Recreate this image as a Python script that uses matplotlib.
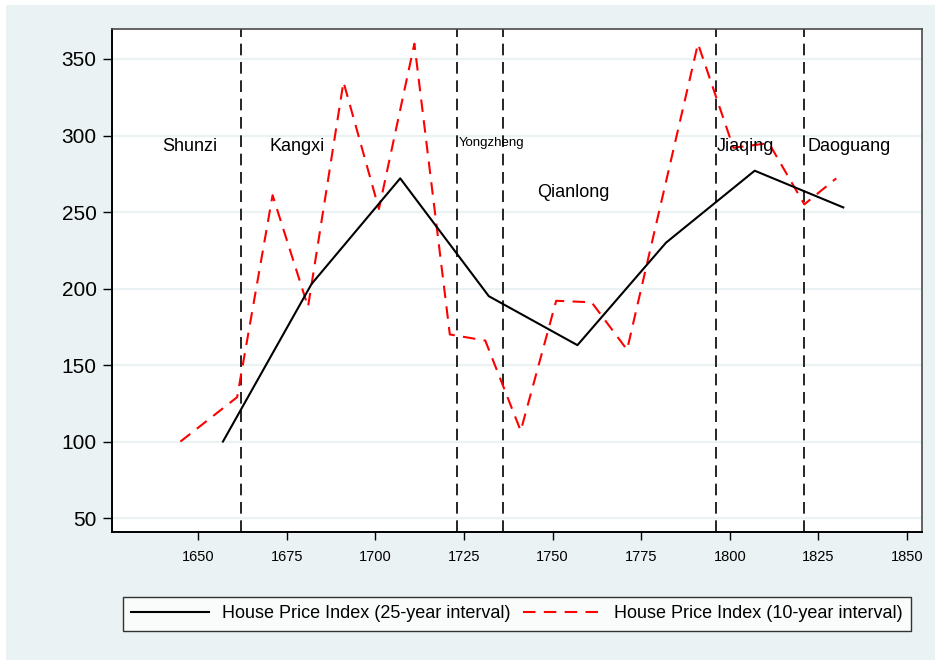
import matplotlib
matplotlib.use("Agg")
import matplotlib.pyplot as plt
from matplotlib.patches import Rectangle

# 25-year interval index
years_25 = [1657, 1682, 1707, 1732, 1757, 1782, 1807, 1832]
hpi_25 = [100, 203, 272, 195, 163, 230, 277, 253]

# 10-year interval index
years_10 = [1645, 1661, 1671, 1681, 1691, 1701, 1711, 1721, 1731, 1741,
            1751, 1761, 1771, 1781, 1791, 1801, 1811, 1821, 1830]
hpi_10 = [100, 129, 261, 188, 335, 252, 360, 170, 166, 107,
          192, 191, 160, 260, 360, 292, 295, 255, 272]

# reign boundaries and labels
reign_starts = [1662, 1723, 1736, 1796, 1821]
reign_names = ["Shunzi", "Kangxi", "Yongzheng", "Qianlong", "Jiaqing", "Daoguang"]
label_x = [1640, 1670, 1723.5, 1745.5, 1796.3, 1821.8]
label_y = [293, 293, 295, 263, 293, 293]
label_size = [13, 13, 9.5, 13, 13, 13]

x_ticks = [1650, 1675, 1700, 1725, 1750, 1775, 1800, 1825, 1850]
y_ticks = [50, 100, 150, 200, 250, 300, 350]

bg = "#EAF2F3"
plt.rcParams['font.family'] = ['Liberation Sans', 'DejaVu Sans']

fig = plt.figure(figsize=(9.35, 6.6), dpi=100)
fig.patch.set_facecolor("white")
fig.patches.append(Rectangle((6 / 935, 0), 1, 1 - 5 / 660, transform=fig.transFigure,
                             facecolor=bg, edgecolor="none", zorder=-10))

ax = fig.add_axes([112 / 935, 1 - 532 / 660, (922 - 112) / 935, (532 - 29) / 660])
ax.set_facecolor("white")

for y in y_ticks:
    ax.axhline(y, color=bg, lw=1.6, zorder=0)

for x in reign_starts:
    ax.axvline(x, color="black", lw=1.2, dashes=(7, 4), zorder=1)

ax.plot(years_25, hpi_25, color="black", lw=1.5, zorder=3,
        label="House Price Index (25-year interval)")
ax.plot(years_10, hpi_10, color="red", lw=1.5, dashes=(6, 4), zorder=2,
        label="House Price Index (10-year interval)")

for name, x, y, s in zip(reign_names, label_x, label_y, label_size):
    ax.text(x, y, name, fontsize=s, ha="left", va="center", zorder=4)

ax.set_xlim(1625.7, 1854.2)
ax.set_ylim(40.9, 369.6)
ax.set_xticks(x_ticks)
ax.set_yticks(y_ticks)
ax.tick_params(axis="x", labelsize=10.5, length=6, width=1, pad=7, color="black")
ax.tick_params(axis="y", labelsize=15, length=6.5, width=1, pad=4.5, color="black")

for side in ["left", "bottom"]:
    ax.spines[side].set_color("black")
    ax.spines[side].set_linewidth(1.4)
for side in ["top", "right"]:
    ax.spines[side].set_color("#4a4a4a")
    ax.spines[side].set_linewidth(1.2)

leg = fig.legend(loc="center", bbox_to_anchor=(517 / 935, 1 - 614 / 660), ncol=2,
                 fontsize=13, frameon=True, fancybox=False, handlelength=4.3,
                 columnspacing=0.7, handletextpad=0.75, borderpad=0.45,
                 borderaxespad=0)
leg.get_frame().set_edgecolor("black")
leg.get_frame().set_linewidth(1.0)

fig.savefig("out.png", dpi=100, facecolor=fig.get_facecolor())
